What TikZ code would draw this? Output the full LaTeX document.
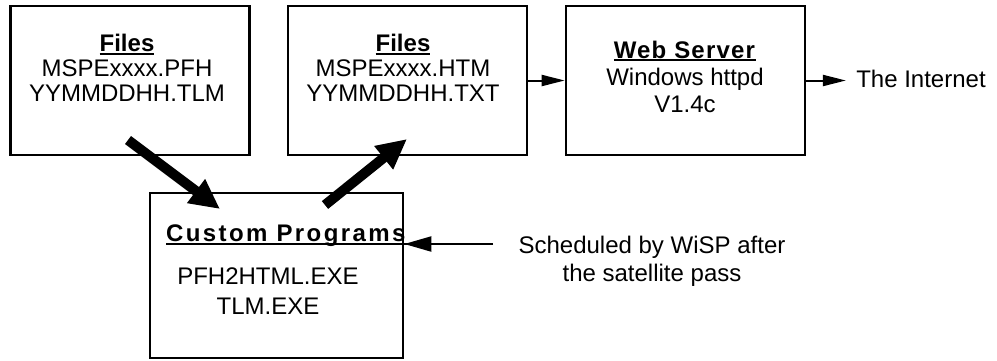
\documentclass[tikz,border=0pt]{standalone}
\usepackage{fontspec}
\setmainfont{Liberation Sans}
\usetikzlibrary{positioning, arrows.meta, calc}
\newcommand{\undl}[1]{\setbox0\hbox{#1}\rlap{\rule[-1.6pt]{\wd0}{1.1pt}}\box0}

\begin{document}
\begin{tikzpicture}[
  x=0.5pt, y=-0.5pt,
  every node/.style={font=\fontsize{12}{12.5}\selectfont},
  box/.style  = {draw, line width=1.3pt, inner sep=0pt, minimum height=74.5pt, minimum width=119.5pt},
  txt/.style  = {align=center, inner sep=0pt},
  arr/.style  = {-{Triangle[length=11.5pt, width=5.5pt]}, line width=1pt},
  arrb/.style = {-{Triangle[length=13.5pt, width=7.5pt]}, line width=1pt},
  fat/.style  = {-{Triangle[length=15pt, width=14pt]}, line width=5pt},
]
  \useasboundingbox (0,0) rectangle (997,360);
  % boxes
  \node[box] (files1) at (130,80.5)   {};
  \node[box] (files2) at (407.5,80.5) {};
  \node[box] (web)    at (685.5,80.5) {};
  \node[box, minimum width=126.5pt, minimum height=82.5pt] (progs) at (276.5,275.5) {};
  % texts
  \node[txt] (files1txt) at (127,68) {\undl{\textbf{Files}}\\MSPExxxx.PFH\\YYMMDDHH.TLM};
  \node[txt] (files2txt) at (403,68) {\undl{\textbf{Files}}\\MSPExxxx.HTM\\YYMMDDHH.TXT};
  \node[txt, font=\fontsize{12}{13.5}\selectfont] (webtxt) at (685,76.5)
    {\undl{\textbf{\addfontfeatures{LetterSpace=5}Web Server}}\\Windows httpd\\V1.4c};
  \node[txt] (progshead) at (287,236) {\undl{\textbf{\addfontfeatures{LetterSpace=10}Custom Programs}}};
  \node[txt, font=\fontsize{12}{15}\selectfont] (progstxt) at (268,291) {PFH2HTML.EXE\\TLM.EXE};
  \node[txt, font=\fontsize{12}{14}\selectfont] (sched) at (652,261) {Scheduled by WiSP after\\the satellite pass};
  \node[txt] (internet) at (921,78.5) {The Internet};
  % connectors
  \coordinate (schedfrom) at (493,244);
  \coordinate (f1out) at (128,140);
  \coordinate (pin)   at (220,209);
  \coordinate (pout)  at (325,205);
  \coordinate (f2in)  at (407,139);
  \draw[arr] (files2) -- (web);
  \draw[arr, shorten >=5pt] (web.east) -- (web.east -| internet.west);
  \draw[arrb] (schedfrom) -- (schedfrom -| progs.east);
  \draw[fat] (f1out) -- (pin);
  \draw[fat] (pout) -- (f2in);
\end{tikzpicture}
\end{document}
